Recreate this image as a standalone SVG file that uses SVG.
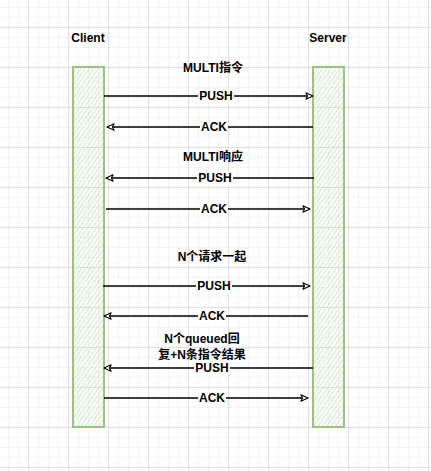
<svg xmlns="http://www.w3.org/2000/svg" width="431" height="471" viewBox="0 0 431 471">
<defs>
<pattern id="grid" patternUnits="userSpaceOnUse" x="28" y="27" width="40" height="40">
<rect width="40" height="40" fill="#ffffff"/>
<path d="M10.5,0V40M20.5,0V40M30.5,0V40M0,10.5H40M0,20.5H40M0,30.5H40" stroke="#f3f3f3" stroke-width="1" fill="none"/>
<path d="M0.5,0V40M0,0.5H40" stroke="#e0e0e0" stroke-width="1" fill="none"/>
</pattern>
<pattern id="hatch" patternUnits="userSpaceOnUse" width="3.6" height="10" patternTransform="rotate(35)">
<line x1="1" y1="0" x2="1" y2="10" stroke="#c3e0b4" stroke-width="0.9"/>
</pattern>
<marker id="arr" viewBox="0 0 10 10" refX="9" refY="5" markerWidth="9" markerHeight="9" markerUnits="userSpaceOnUse" orient="auto">
<path d="M1,1.5 L9,5 L1,8.5 L3,5 Z" fill="#ffffff" stroke="#000000" stroke-width="1.2" stroke-linejoin="round"/>
</marker>
</defs>
<style>
text{font-family:"Liberation Sans","Noto Sans CJK SC",sans-serif;font-size:12px;font-weight:bold;fill:#000000;text-anchor:middle}
.life{fill:url(#hatch);stroke:#97c47e;stroke-width:2}
.conn{stroke:#000000;stroke-width:1.3;fill:none;marker-end:url(#arr)}
.bg{fill:#ffffff}
</style>
<rect width="431" height="471" fill="url(#grid)"/>
<g id="client">
<rect class="life" x="73" y="67" width="31" height="360"/>
<text x="88" y="42">Client</text>
</g>
<g id="server">
<rect class="life" x="313" y="67" width="31" height="360"/>
<text x="328" y="42">Server</text>
</g>
<g id="connectors">
<path class="conn" d="M104,96 L313,96"/>
<path class="conn" d="M313,127 L107,127"/>
<path class="conn" d="M314,178 L106,178"/>
<path class="conn" d="M106,209 L310,209"/>
<path class="conn" d="M103,286 L310,286"/>
<path class="conn" d="M308,316 L104,316"/>
<path class="conn" d="M313,368 L104,368"/>
<path class="conn" d="M104,398 L308,398"/>
</g>
<g id="labels">
<rect class="bg" x="198" y="89" width="36" height="14"/><text x="216" y="100">PUSH</text>
<rect class="bg" x="200" y="120" width="28" height="14"/><text x="214" y="131">ACK</text>
<rect class="bg" x="197" y="171" width="36" height="14"/><text x="215" y="182">PUSH</text>
<rect class="bg" x="200" y="202" width="28" height="14"/><text x="214" y="213">ACK</text>
<rect class="bg" x="196" y="279" width="36" height="14"/><text x="214" y="290">PUSH</text>
<rect class="bg" x="198" y="309" width="28" height="14"/><text x="212" y="320">ACK</text>
<rect class="bg" x="194" y="361" width="36" height="14"/><text x="212" y="372">PUSH</text>
<rect class="bg" x="198" y="391" width="28" height="14"/><text x="212" y="402">ACK</text>
</g>
<g id="notes">
<text x="213" y="72">MULTI指令</text>
<text x="213" y="161">MULTI响应</text>
<text x="212" y="261">N个请求一起</text>
<text x="202" y="343">N个queued回</text>
<text x="202" y="359">复+N条指令结果</text>
</g>
</svg>
